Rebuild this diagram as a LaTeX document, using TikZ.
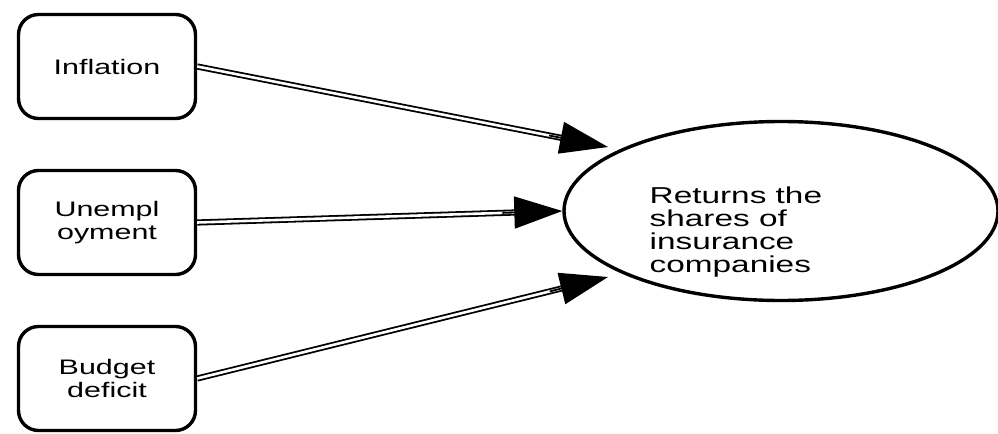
\documentclass[tikz,border=0pt]{standalone}
\usepackage{fontspec}
\setmainfont{Liberation Sans}[FakeStretch=1.45]
\usepackage{tikz}
\usetikzlibrary{positioning}
\usetikzlibrary{arrows.meta}
\usetikzlibrary{chains,shapes,calc}

\begin{document}
\begin{tikzpicture}[x=0.5pt,y=-0.5pt,
  every node/.style={draw,line width=1.7pt},
  factor/.style={rounded corners=10pt,minimum width=88.5pt,minimum height=52pt,inner sep=0pt,
    align=center,font=\fontsize{10.5}{11.5}\selectfont},
  result/.style={ellipse,minimum width=217pt,minimum height=89.5pt,inner sep=0pt},
  resulttext/.style={draw=none,inner sep=0pt,align=left,font=\fontsize{11.5}{11.5}\selectfont},
  dline/.style={double,line width=0.9pt,double distance=1.3pt,shorten >=21pt},
  head/.style={-{Triangle[length=24pt,width=16pt]},line width=0.9pt}]

\useasboundingbox (0,0) rectangle (998,434);

\begin{scope}[start chain=going below,node distance=24.3pt]
\node[factor,on chain] (inf) at (107,66.5) {Inflation};
\node[factor,on chain] (unemp) {Unempl\\oyment};
\node[factor,on chain] (budget) {Budget\\deficit};
\end{scope}

\node[result] (ret) at (781,211) {};
\node[resulttext,anchor=north west] (rettext) at (648,185)
  {Returns the\\shares of\\insurance\\companies};

\coordinate (t1) at (608,147);
\coordinate (t3) at (608,277);

\draw[dline] (inf.east) -- (t1);
\draw[head] ($(t1)!30pt!(inf.east)$) -- (t1);
\draw[dline] (unemp.east) -- (ret.west);
\draw[head] ($(ret.west)!30pt!(unemp.east)$) -- (ret.west);
\draw[dline] (budget.east) -- (t3);
\draw[head] ($(t3)!30pt!(budget.east)$) -- (t3);
\end{tikzpicture}
\end{document}
